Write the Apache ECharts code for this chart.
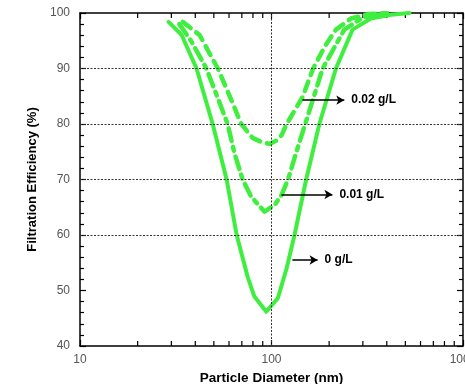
<!DOCTYPE html>
<html>
<head>
<meta charset="utf-8">
<script src="https://cdn.jsdelivr.net/npm/echarts@6/dist/echarts.min.js"></script>
<style>
  html, body { margin: 0; padding: 0; background: #fff; }
  #chart { width: 465px; height: 384px; }
</style>
</head>
<body>
<div id="chart"></div>
<script>
// particle diameter (nm) / filtration efficiency (%)
const solidX = [29, 34, 40.6, 49.3, 58.3, 65.8, 75, 81.4, 93.8, 107.9, 120, 131.9, 151.7, 177.8, 217, 265, 330, 420, 525];
const solidY = [98.4, 96, 90, 80, 70, 60, 52.5, 48.9, 46.2, 48.6, 54, 60, 70, 80, 90, 97, 99, 99.7, 100];

const dashDotX = [33, 38, 45.7, 52, 59, 64.1, 70.7, 78.3, 92, 103.8, 112.7, 122, 135, 150, 185, 240, 300, 400];
const dashDotY = [98, 95, 90, 85, 80, 74.7, 70, 66.9, 64.2, 65.4, 67.2, 70, 75, 80, 90, 97, 99.2, 100];

const dashedX = [34.4, 42.2, 47.5, 52.5, 62.6, 69.5, 79.6, 88, 97.8, 106, 113, 120, 145, 165, 190, 217, 260, 320, 400];
const dashedY = [98.4, 96, 92.7, 90, 83.8, 80, 77.5, 76.8, 76.4, 77, 78, 80, 84.8, 90, 94, 97, 99, 99.8, 100];

const seriesNames = ['0 g/L', '0.01 g/L', '0.02 g/L'];

// annotation arrows: [fromX, toX, y]
const arrow0 = [128.5, 174, 55.5];
const arrow001 = [112.7, 208, 67.3];
const arrow002 = [145, 240, 84.3];

const gridYValues = [60, 70, 80, 90];
const gridXValues = [100];
const minorXTicks = [20, 30, 40, 50, 60, 70, 80, 90, 200, 300, 400, 500, 600, 700, 800, 900];

const GREEN = '#3fee3f';
const FONT = '"Liberation Sans", Arial, sans-serif';

function zip(xs, ys) { return xs.map((x, i) => [x, ys[i]]); }

function arrowLine(a, name) {
  return {
    silent: true,
    symbol: ['none', 'arrow'],
    symbolSize: [7, 8],
    lineStyle: { color: '#000', width: 1.5, type: 'solid' },
    label: {
      show: true, position: 'end', distance: 7, formatter: name,
      color: '#000', fontWeight: 'bold', fontSize: 12, fontFamily: FONT
    },
    data: [[{ coord: [a[0], a[2]] }, { coord: [a[1], a[2]] }]]
  };
}

const chart = echarts.init(document.getElementById('chart'));

const yAxisBase = {
  type: 'value', min: 40, max: 100, interval: 10,
  axisLine: { show: true, lineStyle: { color: '#000', width: 1.5 } },
  axisTick: { show: true, inside: true, length: 6, lineStyle: { color: '#000', width: 1.2 } },
  minorTick: { show: true, splitNumber: 5, length: 4, lineStyle: { color: '#000', width: 1.2 } },
  splitLine: { show: false }
};
const xAxisBase = {
  type: 'log', logBase: 10, min: 10, max: 1000,
  axisLine: { show: true, lineStyle: { color: '#000', width: 1.5 } },
  axisTick: { show: true, inside: true, length: 6, lineStyle: { color: '#000', width: 1.2 } },
  splitLine: { show: false }
};

chart.setOption({
  animation: false,
  backgroundColor: '#fff',
  grid: { left: 80, right: 2, top: 13, bottom: 38, containLabel: false, outerBoundsMode: 'none' },
  xAxis: [
    Object.assign({}, xAxisBase, {
      position: 'bottom',
      name: 'Particle Diameter (nm)', nameLocation: 'middle', nameGap: 25,
      nameTextStyle: { color: '#000', fontWeight: 'bold', fontSize: 13.5, fontFamily: FONT },
      axisLabel: { color: '#555', fontSize: 12, margin: 8, fontFamily: FONT, formatter: v => String(v), hideOverlap: false, showMaxLabel: true }
    }),
    Object.assign({}, xAxisBase, { position: 'top', axisLabel: { show: false } })
  ],
  yAxis: [
    Object.assign({}, yAxisBase, {
      position: 'left',
      name: 'Filtration Efficiency (%)', nameLocation: 'middle', nameGap: 41,
      nameTextStyle: { color: '#000', fontWeight: 'bold', fontSize: 13, fontFamily: FONT },
      axisLabel: { color: '#555', fontSize: 12, margin: 10, fontFamily: FONT }
    }),
    Object.assign({}, yAxisBase, { position: 'right', axisLabel: { show: false } })
  ],
  series: [
    {
      type: 'custom', z: 1, silent: true, clip: false,
      dimensions: ['d', 'e'],
      data: minorXTicks.map(v => [v, 40]),
      encode: { x: 0, y: 1 },
      renderItem: function (params, api) {
        const b = api.coord([api.value(0), 40]);
        const t = api.coord([api.value(0), 100]);
        const st = { stroke: '#000', lineWidth: 1.2 };
        return {
          type: 'group',
          children: [
            { type: 'line', shape: { x1: b[0], y1: b[1], x2: b[0], y2: b[1] - 5 }, style: st },
            { type: 'line', shape: { x1: t[0], y1: t[1], x2: t[0], y2: t[1] + 5 }, style: st }
          ]
        };
      },
      markLine: {
        silent: true, symbol: 'none', label: { show: false },
        lineStyle: { color: '#333', width: 1, type: [2, 1.5] },
        data: gridYValues.map(v => ({ yAxis: v })).concat(gridXValues.map(v => ({ xAxis: v })))
      }
    },
    {
      name: seriesNames[0], type: 'line', z: 3, symbol: 'none',
      data: zip(solidX, solidY),
      lineStyle: { color: GREEN, width: 4, type: 'solid', cap: 'round', join: 'round' },
      markLine: arrowLine(arrow0, seriesNames[0])
    },
    {
      name: seriesNames[1], type: 'line', z: 3, symbol: 'none',
      data: zip(dashDotX, dashDotY),
      lineStyle: { color: GREEN, width: 4.5, type: [13, 6, 4, 6], cap: 'round', join: 'round' },
      markLine: arrowLine(arrow001, seriesNames[1])
    },
    {
      name: seriesNames[2], type: 'line', z: 3, symbol: 'none',
      data: zip(dashedX, dashedY),
      lineStyle: { color: GREEN, width: 4.5, type: [10, 7], cap: 'round', join: 'round' },
      markLine: arrowLine(arrow002, seriesNames[2])
    }
  ]
});
</script>
</body>
</html>
